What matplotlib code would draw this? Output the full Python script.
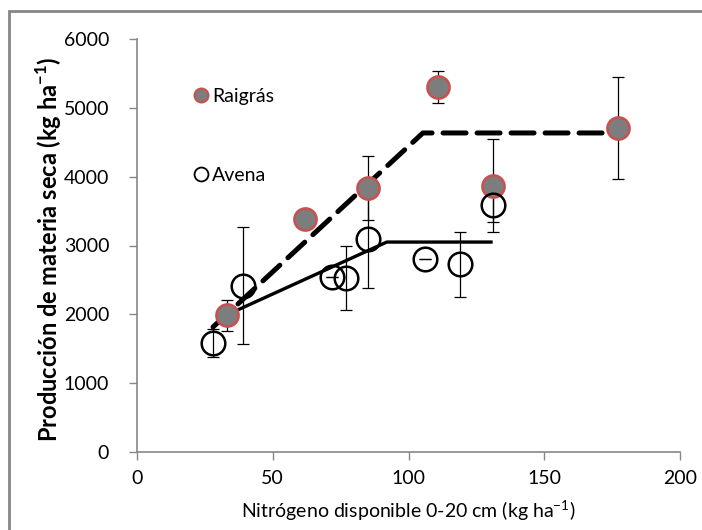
import matplotlib
matplotlib.use('Agg')
import matplotlib.pyplot as plt
from matplotlib.lines import Line2D
from matplotlib.patches import Rectangle

plt.rcParams['font.family'] = ['Lato', 'DejaVu Sans']
plt.rcParams['mathtext.fontset'] = 'custom'
plt.rcParams['mathtext.rm'] = 'Lato'
plt.rcParams['mathtext.bf'] = 'Lato:bold'

# Raigrás (ryegrass)
rai_x = [33, 62, 85, 111, 131, 177]
rai_y = [1990, 3385, 3835, 5300, 3865, 4710]
rai_err = [225, 80, 465, 233, 675, 740]

# Avena (oats)
ave_x = [28, 39, 72, 77, 85, 106, 119, 131]
ave_y = [1584, 2412, 2542, 2528, 3095, 2804, 2731, 3589]
ave_err = [200, 850, 0, 460, 712, 0, 472, 247]

# fitted linear-plateau models
rai_fit_x = [28, 105.3, 177]
rai_fit_y = [1816, 4635, 4635]
ave_fit_x = [33, 92, 131]
ave_fit_y = [1990, 3050, 3050]

xticks = [0, 50, 100, 150, 200]
yticks = [0, 1000, 2000, 3000, 4000, 5000, 6000]

grey = '#868686'
red = '#c9504e'
fill = '#7d7d7d'

fig = plt.figure(figsize=(7.02, 5.30), dpi=100)
ax = fig.add_axes([137 / 702, 1 - 452 / 530, (680 - 137) / 702, (452 - 39) / 530])

# outer chart frame (only left/top visible)
fig.patches.append(Rectangle((9 / 702, -0.1), 1.2, 1.1 - 11 / 530,
                             transform=fig.transFigure, fill=False,
                             edgecolor=grey, linewidth=2))

ax.plot(rai_fit_x, rai_fit_y, color='black', lw=3.6, linestyle=(0, (4.6, 2.2)),
        dash_capstyle='round', zorder=2)
ax.plot(ave_fit_x, ave_fit_y, color='black', lw=2.4, solid_capstyle='butt', zorder=2)

ax.errorbar(rai_x, rai_y, yerr=rai_err, fmt='none', ecolor='black', elinewidth=0.9,
            capsize=4.5, capthick=0.9, zorder=3)
ax.errorbar(ave_x, ave_y, yerr=ave_err, fmt='none', ecolor='black', elinewidth=0.9,
            capsize=4.5, capthick=0.9, zorder=3)

ax.plot(rai_x, rai_y, 'o', ms=16, markerfacecolor=fill, markeredgecolor=red,
        markeredgewidth=1.8, zorder=4)
ax.plot(ave_x, ave_y, 'o', ms=17, markerfacecolor='none', markeredgecolor='black',
        markeredgewidth=1.8, zorder=4)

ax.set_xlim(0, 200)
ax.set_ylim(0, 6000)
ax.set_xticks(xticks)
ax.set_yticks(yticks)
ax.tick_params(direction='out', length=6, width=1, color=grey, labelsize=14, pad=7)
ax.tick_params(axis='y', pad=14)

for side in ['top', 'right']:
    ax.spines[side].set_visible(False)
for side in ['left', 'bottom']:
    ax.spines[side].set_color(grey)
    ax.spines[side].set_linewidth(1.2)

ax.set_xlabel('Nitrógeno disponible 0-20 cm (kg ha$^{-1}$)', fontsize=14, labelpad=8)
ax.set_ylabel('Producción de materia seca (kg ha$^{\\mathbf{-1}}$)', fontsize=17,
              fontweight='bold', labelpad=6)
ax.yaxis.set_label_coords(-0.135, 0.49)

handles = [
    Line2D([], [], marker='o', linestyle='none', ms=10, markerfacecolor=fill,
           markeredgecolor=red, markeredgewidth=1.5, label='Raigrás'),
    Line2D([], [], marker='o', linestyle='none', ms=10, markerfacecolor='none',
           markeredgecolor='black', markeredgewidth=1.3, label='Avena'),
]
ax.legend(handles=handles, loc='upper left', bbox_to_anchor=(182 / 702, 1 - 78 / 530),
          bbox_transform=fig.transFigure, frameon=False, fontsize=14,
          labelspacing=3.2, handletextpad=0.05, handlelength=1.0, borderpad=0)

fig.savefig('out.png', dpi=100)
